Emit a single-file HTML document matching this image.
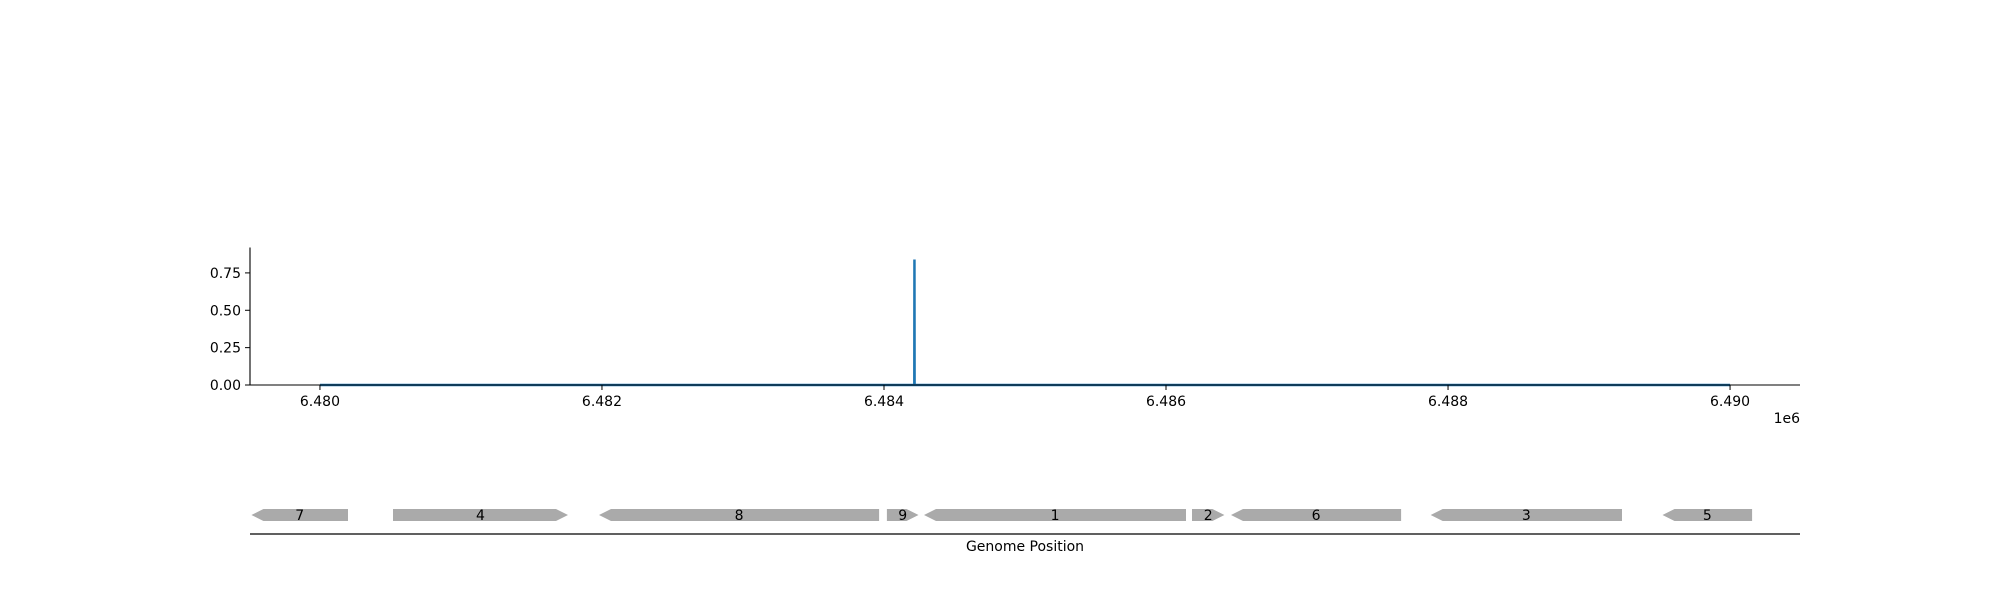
<!DOCTYPE html>
<html><head><meta charset="utf-8"><style>
html,body{margin:0;padding:0;background:#fff;}
svg{display:block;font-family:"DejaVu Sans","Liberation Sans",sans-serif;}
</style></head><body>
<svg id="chart" width="2000" height="600" viewBox="0 0 2000 600" xmlns="http://www.w3.org/2000/svg">
<g id="plot"></g>
<g id="genes"></g>
</svg>
<script>
const xTicks = [6480000, 6482000, 6484000, 6486000, 6488000, 6490000];
const xTickLabels = ["6.480", "6.482", "6.484", "6.486", "6.488", "6.490"];
const yTicks = [0, 0.25, 0.5, 0.75];
const yTickLabels = ["0.00", "0.25", "0.50", "0.75"];
const seriesPos = [6480000, 6484215, 6484216, 6484217, 6490000];
const seriesVal = [0, 0, 0.84, 0, 0];
const geneNames = ["7", "4", "8", "9", "1", "2", "6", "3", "5"];
const geneStart = [6479514, 6480518, 6481979, 6484021, 6484284, 6486184, 6486461, 6487877, 6489521];
const geneEnd = [6480199, 6481759, 6483965, 6484245, 6486142, 6486414, 6487667, 6489234, 6490156];
const geneStrand = [-1, 1, -1, 1, -1, 1, -1, -1, -1];

const NS = "http://www.w3.org/2000/svg";
const xMin = 6479504, xMax = 6490496, pxL = 250, pxR = 1800;
const yMin = 0, yMax = 0.92, pyB = 385, pyT = 247.5;
const xs = v => pxL + (v - xMin) / (xMax - xMin) * (pxR - pxL);
const ys = v => pyB - (v - yMin) / (yMax - yMin) * (pyB - pyT);
function mk(tag, attrs, parent, text) {
  const e = document.createElementNS(NS, tag);
  for (const k in attrs) e.setAttribute(k, attrs[k]);
  if (text !== undefined) e.textContent = text;
  parent.appendChild(e);
  return e;
}
const plot = document.getElementById("plot");
const genes = document.getElementById("genes");

// series
let d = "";
seriesPos.forEach((p, i) => { d += (i ? "L" : "M") + xs(p).toFixed(2) + " " + ys(seriesVal[i]).toFixed(2); });
const line = mk("path", {d: d, fill: "none", stroke: "#1f77b4", "stroke-width": 2.5}, plot);



// spines
const ysp = mk("line", {x1: pxL, y1: pyT, x2: pxL, y2: pyB, stroke: "#000", "stroke-width": 1.1}, plot);


const xsp = mk("line", {x1: pxL, y1: pyB, x2: pxR, y2: pyB, stroke: "#000", "stroke-width": 1.1}, plot);



// y ticks
yTicks.forEach((v, i) => {
  const y = ys(v);
  const t = mk("line", {x1: pxL - 5, y1: y, x2: pxL, y2: y, stroke: "#000", "stroke-width": 1}, plot);
  
  
  const l = mk("text", {x: pxL - 9, y: y + 5, "text-anchor": "end", "font-size": 14}, plot, yTickLabels[i]);
  
  
});
// x ticks
xTicks.forEach((v, i) => {
  const x = xs(v);
  const t = mk("line", {x1: x, y1: pyB, x2: x, y2: pyB + 5, stroke: "#000", "stroke-width": 1}, plot);
  
  
  const l = mk("text", {x: x, y: pyB + 21, "text-anchor": "middle", "font-size": 14}, plot, xTickLabels[i]);
  
  
});
const off = mk("text", {x: pxR, y: 423, "text-anchor": "end", "font-size": 14}, plot, "1e6");



// gene track
const gTop = 509, gBot = 521, gMid = 515, head = 12;
geneNames.forEach((n, i) => {
  const a = xs(geneStart[i]), b = xs(geneEnd[i]);
  let pts;
  if (geneStrand[i] < 0) {
    pts = [[a, gMid], [a + head, gTop], [b, gTop], [b, gBot], [a + head, gBot]];
  } else {
    pts = [[a, gTop], [b - head, gTop], [b, gMid], [b - head, gBot], [a, gBot]];
  }
  const p = mk("polygon", {points: pts.map(q => q[0].toFixed(1) + "," + q[1]).join(" "), fill: "#aaaaaa"}, genes);
  
  
  const l = mk("text", {x: (a + b) / 2, y: gMid + 5, "text-anchor": "middle", "font-size": 14}, genes, n);
  
  
});
const base = mk("line", {x1: pxL, y1: 534, x2: pxR, y2: 534, stroke: "#000", "stroke-width": 1.3}, genes);


const title = mk("text", {x: (pxL + pxR) / 2, y: 551, "text-anchor": "middle", "font-size": 14}, genes, "Genome Position");


</script>
</body></html>
